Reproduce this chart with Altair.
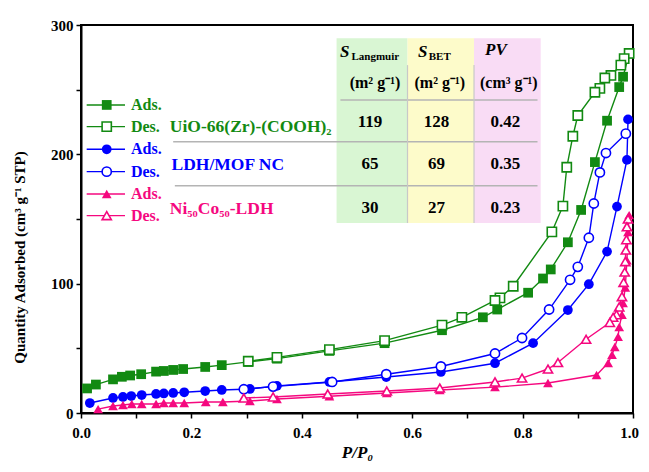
import altair as alt
import pandas as pd

# ---------------- data ----------------
uio_ads_x = [0.011,0.027,0.058,0.074,0.089,0.109,0.136,0.150,0.167,0.185,0.225,0.255,0.303,0.355,0.45,0.55,0.654,0.728,0.754,0.810,0.837,0.851,0.882,0.906,0.931,0.953,0.975,0.982,0.993]
uio_ads_y = [19,22,26,28,29,30,32,32.5,33.3,34,35.6,37,39.5,42,48,54,64,74,80,93,104,111,132,157,194,226,252,260,278]
uio_des_x = [0.993,0.984,0.978,0.960,0.949,0.940,0.931,0.900,0.891,0.880,0.873,0.853,0.783,0.759,0.750,0.690,0.654,0.55,0.45,0.355,0.303]
uio_des_y = [278,274,269,261,259,251,248,230,214,190,160,140,98,89,87,74,68,56,49,43,40]

mof_ads_x = [0.016,0.058,0.076,0.091,0.110,0.136,0.150,0.167,0.187,0.225,0.255,0.306,0.355,0.45,0.553,0.652,0.750,0.819,0.882,0.920,0.953,0.971,0.989,0.991]
mof_ads_y = [7.7,11.6,12.4,13.1,13.9,14.7,15.1,15.5,16,17,17.8,18.6,21,24,27.8,31.7,38.5,54,79.6,99.6,124.8,159.6,195.7,227]
mof_des_x = [0.987,0.951,0.940,0.929,0.920,0.900,0.886,0.848,0.799,0.750,0.652,0.553,0.455,0.348,0.295]
mof_des_y = [216,201,186,162,135.5,113,103,80,58,46,36,30,24,20.4,18.4]

ldh_ads_x = [0.031,0.058,0.076,0.092,0.110,0.136,0.150,0.167,0.187,0.226,0.257,0.306,0.355,0.45,0.554,0.650,0.750,0.846,0.934,0.955,0.962,0.967,0.973,0.975,0.980,0.982,0.986,0.989,0.991,0.993]
ldh_ads_y = [3,5.4,6.2,7,7,7,7.7,7.7,7.7,8.5,8.5,9.3,10.8,13,15.5,17.8,20,23.2,29.4,38.7,45,51,59,66.5,76,85,97,118,140,153]
ldh_des_x = [0.991,0.989,0.988,0.987,0.986,0.985,0.983,0.980,0.975,0.970,0.964,0.958,0.915,0.864,0.846,0.799,0.750,0.650,0.554,0.447,0.348,0.295]
ldh_des_y = [150,144,134,126,117,109,101,90,82,76,74,70,57,39,34,27,24,19.3,17,14.7,12.4,11.6]

sample_names = ["UiO-66(Zr)-(COOH)₂", "LDH/MOF NC", "Ni₅₀Co₅₀-LDH"]
s_langmuir = ["119", "65", "30"]
s_bet = ["128", "69", "27"]
pv = ["0.42", "0.35", "0.23"]

GREEN = "#128a12"
BLUE = "#0000ff"
PINK = "#f5087f"
FONT = "Liberation Serif"

X = alt.Scale(domain=[0, 1], nice=False)
Y = alt.Scale(domain=[0, 300], nice=False)

def series(xs, ys, color, shape, filled):
    df = pd.DataFrame({"x": xs, "y": ys, "o": list(range(len(xs)))})
    base = alt.Chart(df)
    line = base.mark_line(color=color, strokeWidth=1.4).encode(
        x=alt.X("x:Q", scale=X), y=alt.Y("y:Q", scale=Y), order="o:Q")
    if filled:
        pts = base.mark_point(shape=shape, filled=True, color=color, size=95, opacity=1)
    else:
        pts = base.mark_point(shape=shape, filled=True, fill="white", stroke=color,
                              strokeWidth=1.6, size=85, opacity=1)
    pts = pts.encode(x=alt.X("x:Q", scale=X), y=alt.Y("y:Q", scale=Y))
    return line + pts

# ---------------- table background ----------------
col_x1 = [0.463, 0.5915, 0.712]
col_x2 = [0.5915, 0.712, 0.8328]
col_fill = ["#d9f6d3", "#fdfbca", "#f9dcf5"]
bg = alt.Chart(pd.DataFrame({"x": col_x1, "x2": col_x2, "c": col_fill,
                             "y": [289.7]*3, "y2": [146.9]*3})).mark_rect().encode(
    x=alt.X("x:Q", scale=X), x2="x2:Q", y=alt.Y("y:Q", scale=Y), y2="y2:Q",
    color=alt.Color("c:N", scale=None))

hl = alt.Chart(pd.DataFrame({"x": [0.47, 0.167, 0.170], "x2": [0.827, 0.827, 0.827],
                             "y": [242.0, 209.8, 175.8]})).mark_rule(color="#b4b4b4", strokeWidth=1.5).encode(
    x=alt.X("x:Q", scale=X), x2="x2:Q", y=alt.Y("y:Q", scale=Y))
vl = alt.Chart(pd.DataFrame({"x": [0.5915, 0.712], "y": [269, 269], "y2": [146.9, 146.9]})).mark_rule(
    color="#c8c8c8", strokeWidth=1.2).encode(
    x=alt.X("x:Q", scale=X), y=alt.Y("y:Q", scale=Y), y2="y2:Q")

# header
hdr_big = alt.Chart(pd.DataFrame({"x": [0.469, 0.6105, 0.732], "y": [279.0, 279.0, 281.0],
                                  "t": ["S", "S", "PV"]})).mark_text(
    font=FONT, fontWeight="bold", fontStyle="italic", fontSize=17, align="left", baseline="middle").encode(
    x=alt.X("x:Q", scale=X), y=alt.Y("y:Q", scale=Y), text="t:N")
hdr_sub = alt.Chart(pd.DataFrame({"x": [0.490, 0.630], "y": [275.0, 275.0],
                                  "t": ["Langmuir", "BET"]})).mark_text(
    font=FONT, fontWeight="bold", fontSize=11, align="left", baseline="middle").encode(
    x=alt.X("x:Q", scale=X), y=alt.Y("y:Q", scale=Y), text="t:N")
hdr_unit = alt.Chart(pd.DataFrame({"x": [0.5326, 0.650, 0.775], "y": [255.0]*3,
                                   "t": ["(m² g⁻¹)", "(m² g⁻¹)", "(cm³ g⁻¹)"]})).mark_text(
    font=FONT, fontWeight="bold", fontSize=16, align="center", baseline="middle").encode(
    x=alt.X("x:Q", scale=X), y=alt.Y("y:Q", scale=Y), text="t:N")

val_rows = []
for i, yy in enumerate([225.3, 192.7, 158.6]):
    for xx, arr in zip([0.5236, 0.644, 0.769], [s_langmuir, s_bet, pv]):
        val_rows.append({"x": xx, "y": yy, "t": arr[i]})
vals = alt.Chart(pd.DataFrame(val_rows)).mark_text(
    font=FONT, fontWeight="bold", fontSize=17, align="center", baseline="middle").encode(
    x=alt.X("x:Q", scale=X), y=alt.Y("y:Q", scale=Y), text="t:N")

# ---------------- legend ----------------
leg_y = [238.2, 221.4, 203.9, 186.6, 169.3, 152.6]
leg_c = [GREEN, GREEN, BLUE, BLUE, PINK, PINK]
leg_shape = ["square", "square", "circle", "circle", "triangle-up", "triangle-up"]
leg_t = ["Ads.", "Des.", "Ads.", "Des.", "Ads.", "Des."]
legend_layers = []
for yy, c, sh, t, k in zip(leg_y, leg_c, leg_shape, leg_t, range(6)):
    d = pd.DataFrame({"x": [0.0103], "x2": [0.0797], "xm": [0.0466], "xt": [0.0905], "y": [yy], "t": [t]})
    b = alt.Chart(d)
    legend_layers.append(b.mark_rule(color=c, strokeWidth=1.4).encode(
        x=alt.X("x:Q", scale=X), x2="x2:Q", y=alt.Y("y:Q", scale=Y)))
    if k % 2 == 0:
        m = b.mark_point(shape=sh, filled=True, color=c, size=95, opacity=1)
    else:
        m = b.mark_point(shape=sh, filled=True, fill="white", stroke=c, strokeWidth=1.6, size=85, opacity=1)
    legend_layers.append(m.encode(x=alt.X("xm:Q", scale=X), y=alt.Y("y:Q", scale=Y)))
    legend_layers.append(b.mark_text(font=FONT, fontWeight="bold", fontSize=16, color=c,
                                     align="left", baseline="middle").encode(
        x=alt.X("xt:Q", scale=X), y=alt.Y("y:Q", scale=Y), text="t:N"))

name_layers = []
for nm, c, xx, yy in zip(sample_names, [GREEN, BLUE, PINK], [0.161, 0.164, 0.161], [221.0, 191.7, 157.6]):
    name_layers.append(alt.Chart(pd.DataFrame({"x": [xx], "y": [yy], "t": [nm]})).mark_text(
        font=FONT, fontWeight="bold", fontSize=17.5, color=c, align="left", baseline="middle").encode(
        x=alt.X("x:Q", scale=X), y=alt.Y("y:Q", scale=Y), text="t:N"))

# ---------------- axes base ----------------
axes = alt.Chart(pd.DataFrame({"x": [0.0], "y": [0.0]})).mark_point(opacity=0).encode(
    x=alt.X("x:Q", scale=X, title="P/P₀",
            axis=alt.Axis(values=[i / 10 for i in range(11)], format=".1f",
                          labelExpr="round(datum.value*10) % 2 == 0 ? datum.label : ''",
                          labelFlush=False, labelOverlap=False,
                          labelOffset={"condition": {"test": "datum.value >= 0.99", "value": -4}, "value": 0},
                          titleFontStyle="italic", titleFontSize=17, titlePadding=4,
                          labelPadding=7)),
    y=alt.Y("y:Q", scale=Y, title="Quantity Adsorbed (cm³ g⁻¹ STP)",
            axis=alt.Axis(values=[i * 50 for i in range(7)],
                          labelExpr="datum.value % 100 == 0 ? datum.label : ''",
                          labelFlush=False, labelOverlap=False,
                          titleFontSize=15, titleY=232, titleX=-54, titleBaseline="bottom",
                          labelPadding=3)))

chart = alt.layer(
    axes, bg, hl, vl, hdr_big, hdr_sub, hdr_unit, vals,
    *legend_layers, *name_layers,
    series(uio_ads_x, uio_ads_y, GREEN, "square", True),
    series(uio_des_x, uio_des_y, GREEN, "square", False),
    series(mof_ads_x, mof_ads_y, BLUE, "circle", True),
    series(mof_des_x, mof_des_y, BLUE, "circle", False),
    series(ldh_ads_x, ldh_ads_y, PINK, "triangle-up", True),
    series(ldh_des_x, ldh_des_y, PINK, "triangle-up", False),
).properties(
    width=552, height=388,
    autosize=alt.AutoSizeParams(type="none"),
    padding={"left": 73, "top": 17, "right": 8, "bottom": 51},
).configure_view(stroke="black", strokeWidth=2).configure_axis(
    labelFont=FONT, titleFont=FONT, labelFontWeight="bold", titleFontWeight="bold",
    labelFontSize=15, labelColor="black", titleColor="black",
    domainColor="black", domainWidth=2, tickColor="black", tickWidth=1.5, tickSize=5,
    grid=False,
)

chart.save("out.html", embed_options={"renderer": "svg", "actions": False})
